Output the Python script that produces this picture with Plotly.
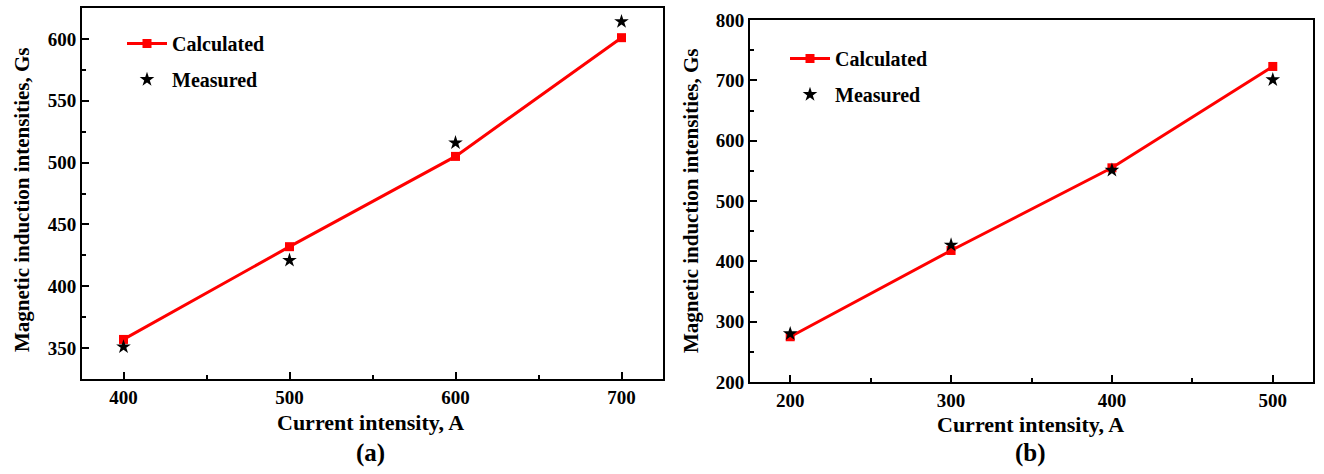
import plotly.graph_objects as go

# Panel (a)
current_a = [400, 500, 600, 700]
calc_a = [357, 432, 505, 601]
meas_a = [351, 421, 516, 614]

# Panel (b)
current_b = [200, 300, 400, 500]
calc_b = [275, 418, 555, 723]
meas_b = [280, 427, 551, 701]

W, H = 1324, 474
FONT = "Liberation Serif"
RED = "#ff0000"

fig = go.Figure()

fig.add_trace(go.Scatter(x=current_a, y=calc_a, mode="lines+markers", name="Calculated",
                         line=dict(color=RED, width=3),
                         marker=dict(symbol="square", size=9, color=RED),
                         xaxis="x", yaxis="y", legend="legend", legendgroup="a1"))
fig.add_trace(go.Scatter(x=current_a, y=meas_a, mode="markers", name="Measured",
                         marker=dict(symbol="star", size=11, color="black"),
                         xaxis="x", yaxis="y", legend="legend", legendgroup="a2"))
fig.add_trace(go.Scatter(x=current_b, y=calc_b, mode="lines+markers", name="Calculated",
                         line=dict(color=RED, width=3),
                         marker=dict(symbol="square", size=9, color=RED),
                         xaxis="x2", yaxis="y2", legend="legend2", legendgroup="b1"))
fig.add_trace(go.Scatter(x=current_b, y=meas_b, mode="markers", name="Measured",
                         marker=dict(symbol="star", size=11, color="black"),
                         xaxis="x2", yaxis="y2", legend="legend2", legendgroup="b2"))

tickfont = dict(family=FONT, size=19, color="black", weight="bold")
axis_common = dict(showline=True, linecolor="black", linewidth=2, mirror=True,
                   ticks="inside", ticklen=7, tickwidth=2, tickcolor="black",
                   showgrid=False, zeroline=False, tickfont=tickfont, automargin=False)

def px_x(p):
    return p / W

def px_y(p):
    return 1 - p / H

legend_font = dict(family=FONT, size=20, color="black", weight="bold")

fig.update_layout(
    width=W, height=H,
    margin=dict(l=0, r=0, t=0, b=0, pad=0, autoexpand=False),
    paper_bgcolor="white", plot_bgcolor="white",
    xaxis=dict(domain=[px_x(82), px_x(663)], range=[375, 725], anchor="y",
               tickvals=[400, 500, 600, 700], minor=dict(tickvals=[450, 550, 650]), **axis_common),
    yaxis=dict(domain=[px_y(379), px_y(8)], range=[325, 625], anchor="x",
               tickvals=[350, 400, 450, 500, 550, 600], minor=dict(tickvals=[375, 425, 475, 525, 575]), **axis_common),
    xaxis2=dict(domain=[px_x(750), px_x(1313)], range=[175, 525], anchor="y2",
                tickvals=[200, 300, 400, 500], minor=dict(tickvals=[250, 350, 450]), **axis_common),
    yaxis2=dict(domain=[px_y(382), px_y(20)], range=[200, 800], anchor="x2",
                tickvals=[200, 300, 400, 500, 600, 700, 800], minor=dict(tickvals=[250, 350, 450, 550, 650, 750]), **axis_common),
    legend=dict(x=px_x(122), y=px_y(24), xanchor="left", yanchor="top",
                bgcolor="rgba(0,0,0,0)", font=legend_font,
                tracegroupgap=7, itemwidth=40),
    legend2=dict(x=px_x(785), y=px_y(39), xanchor="left", yanchor="top",
                 bgcolor="rgba(0,0,0,0)", font=legend_font,
                 tracegroupgap=7, itemwidth=40),
    showlegend=True,
)

for ax in ["xaxis", "yaxis", "xaxis2", "yaxis2"]:
    fig.layout[ax].minor.update(ticks="inside", ticklen=4, tickwidth=2, tickcolor="black", showgrid=False)

ytitle_font = dict(family=FONT, size=21, color="black", weight="bold")
xtitle_font = dict(family=FONT, size=22, color="black", weight="bold")
annos = [
    dict(text="Magnetic induction intensities, Gs", x=px_x(22), y=px_y(200), textangle=-90, font=ytitle_font),
    dict(text="Magnetic induction intensities, Gs", x=px_x(691), y=px_y(200), textangle=-90, font=ytitle_font),
    dict(text="Current intensity, A", x=px_x(370), y=px_y(422), font=xtitle_font),
    dict(text="Current intensity, A", x=px_x(1030), y=px_y(424), font=xtitle_font),
]
for a in annos:
    fig.add_annotation(xref="paper", yref="paper", showarrow=False,
                       xanchor="center", yanchor="middle", **a)

for lbl, xc in [("(a)", 370), ("(b)", 1030)]:
    fig.add_annotation(text=lbl, xref="paper", yref="paper", x=px_x(xc), y=px_y(453),
                       showarrow=False, xanchor="center", yanchor="middle",
                       font=dict(family=FONT, size=25, color="black", weight="bold"))

fig.write_html("out.html")
